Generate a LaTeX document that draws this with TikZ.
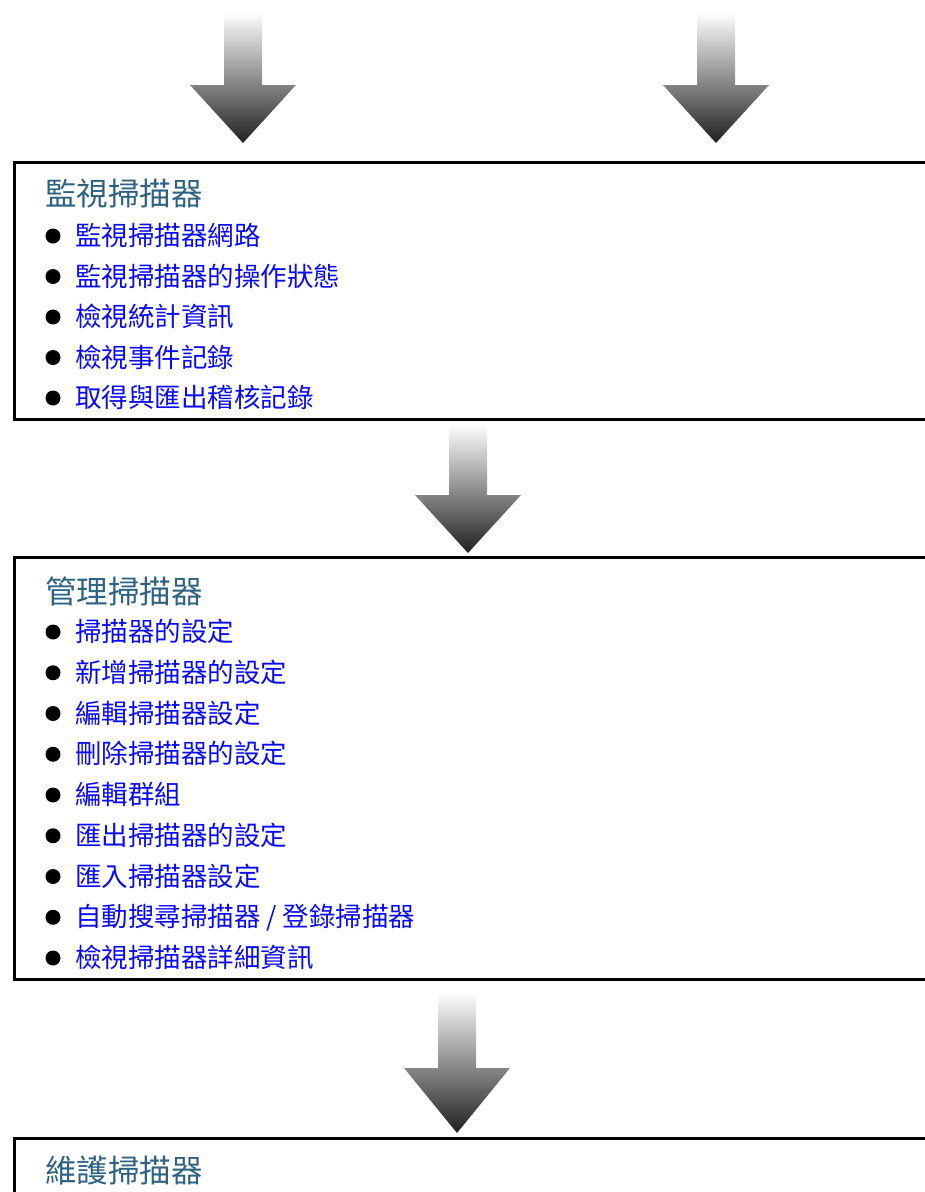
\documentclass[tikz,border=0pt]{standalone}
\usepackage{fontspec}
\setmainfont{Noto Sans CJK TC}
\usetikzlibrary{positioning}
\definecolor{titleblue}{HTML}{2E6282}
\definecolor{itemblue}{HTML}{0A0AF8}
\definecolor{arrowdark}{HTML}{202020}
\tikzset{
    boxline/.style = {line width=3pt, draw=black},
    boxtitle/.style = {anchor=base west, inner sep=0pt, text=titleblue, font=\fontsize{31.5}{31.5}\selectfont},
    boxitem/.style = {anchor=base west, inner sep=0pt, text=itemblue, font=\fontsize{26.5}{26.5}\selectfont},
    bulletdot/.style = {circle, fill=black, inner sep=0pt, minimum size=15pt},
    flowarrow/.style = {top color=white, bottom color=arrowdark},
}
% block arrow: centre x, top y, head y, tip y
\newcommand{\flowarrow}[4]{%
  \shade[flowarrow] (#1-19,#2) -- (#1+19,#2) -- (#1+19,#3) -- (#1+53,#3)
    -- (#1,#4) -- (#1-53,#3) -- (#1-19,#3) -- cycle;}

\begin{document}
\begin{tikzpicture}[x=1pt, y=-1pt]
  \useasboundingbox (0,0) rectangle (925,1192);
  \clip (0,0) rectangle (925,1192);

  % arrows
  \flowarrow{243}{12}{85}{143}
  \flowarrow{716}{12}{85}{143}
  \flowarrow{468}{424}{495}{553}
  \flowarrow{457}{992}{1068}{1133}

  % monitor
  \draw[boxline] (935,162) -| (14,419) -- (935,419);
  \node[boxtitle] (mon-title) at (45,205) {監視掃描器};
  \foreach [count=\k] \txt in {監視掃描器網路, 監視掃描器的操作狀態, 檢視統計資訊,
      檢視事件記錄, 取得與匯出稽核記錄} {
    \node[bulletdot] (mon-b\k) at (53,236+40.5*\k-40.5) {};
    \node[boxitem] (mon-\k) at (75,245.6+40.5*\k-40.5) {\txt};
  }

  % manage
  \draw[boxline] (935,557) -| (14,979) -- (935,979);
  \node[boxtitle] (man-title) at (45,603) {管理掃描器};
  \foreach [count=\k] \txt in {掃描器的設定, 新增掃描器的設定, 編輯掃描器設定,
      刪除掃描器的設定, 編輯群組, 匯出掃描器的設定, 匯入掃描器設定,
      自動搜尋掃描器 / 登錄掃描器, 檢視掃描器詳細資訊} {
    \node[bulletdot] (man-b\k) at (53,632+40.75*\k-40.75) {};
    \node[boxitem] (man-\k) at (75,641.6+40.75*\k-40.75) {\txt};
  }

  % maintain
  \draw[boxline] (935,1138) -| (14,1210);
  \node[boxtitle] (mnt-title) at (45,1182) {維護掃描器};
\end{tikzpicture}
\end{document}
